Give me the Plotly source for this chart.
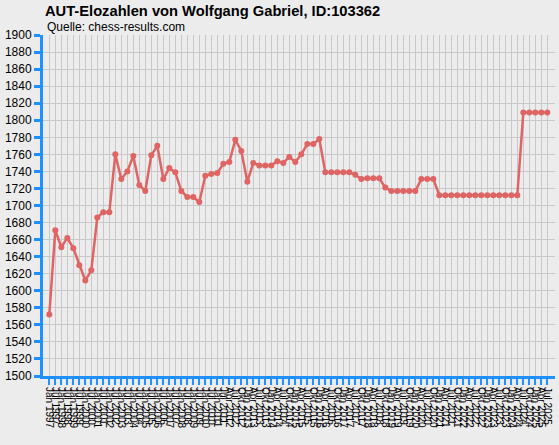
#!/usr/bin/env python3

import plotly.graph_objects as go

# Rating list dates (x axis tick labels).
dates = [
    "Jan 1997", "Jul 1997", "Jan 1998", "Jul 1998", "Jan 1999", "Jul 1999",
    "Jan 2000", "Jul 2000", "Jan 2001", "Jul 2001", "Jan 2002", "Jul 2002",
    "Jan 2003", "Jul 2003", "Jan 2004", "Jul 2004", "Jan 2005", "Jul 2005",
    "Jan 2006", "Jul 2006", "Jan 2007", "Jul 2007", "Jan 2008", "Jul 2008",
    "Jan 2009", "Jul 2009", "Jan 2010", "Jul 2010", "Jan 2011", "Jul 2011",
    "Apr 2012", "Jul 2012", "Okt 2012",
    "Jan 2013", "Apr 2013", "Jul 2013", "Okt 2013",
    "Jan 2014", "Apr 2014", "Jul 2014", "Okt 2014",
    "Jan 2015", "Apr 2015", "Jul 2015", "Okt 2015",
    "Jan 2016", "Apr 2016", "Jul 2016", "Okt 2016",
    "Jan 2017", "Apr 2017", "Jul 2017", "Okt 2017",
    "Jan 2018", "Apr 2018", "Jul 2018", "Okt 2018",
    "Jan 2019", "Apr 2019", "Jul 2019", "Okt 2019",
    "Jan 2020", "Apr 2020", "Jul 2020", "Okt 2020",
    "Jan 2021", "Apr 2021", "Jul 2021", "Okt 2021",
    "Jan 2022", "Apr 2022", "Jul 2022", "Okt 2022",
    "Jan 2023", "Apr 2023", "Jul 2023", "Okt 2023",
    "Jan 2024", "Apr 2024", "Jul 2024", "Okt 2024",
    "Jan 2025", "Apr 2025", "Jul 2025",
]

# Rating at each list.
ratings = [
    1572, 1671, 1651, 1662, 1650, 1630, 1612, 1624, 1686, 1692,
    1692, 1760, 1731, 1740, 1758, 1724, 1717, 1759, 1770, 1731,
    1744, 1739, 1717, 1710, 1710, 1704, 1735, 1737, 1738, 1749,
    1751, 1777, 1764, 1728, 1750, 1747, 1747, 1747, 1752, 1750,
    1757, 1751, 1760, 1772, 1772, 1778, 1739, 1739, 1739, 1739,
    1739, 1736, 1731, 1732, 1732, 1732, 1721, 1717, 1717, 1717,
    1717, 1717, 1731, 1731, 1731, 1712, 1712, 1712, 1712, 1712,
    1712, 1712, 1712, 1712, 1712, 1712, 1712, 1712, 1712, 1809,
    1809, 1809, 1809, 1809,
]

title = "AUT-Elozahlen von Wolfgang Gabriel, ID:103362"
subtitle = "Quelle: chess-results.com"

bg = "#ECECEC"
axis_blue = "#1E90FF"
grid = "#C8C8C8"
line_red = "#DF6464"
font = "Liberation Sans, Arial, sans-serif"

fig = go.Figure()

# Rating line with markers.
fig.add_trace(go.Scatter(
    x=dates, y=ratings, mode="lines+markers",
    line=dict(color=line_red, width=2.5),
    marker=dict(color=line_red, size=6),
    showlegend=False,
))

fig.update_layout(
    width=559, height=445,
    margin=dict(l=43, r=4, t=35, b=69),
    paper_bgcolor=bg, plot_bgcolor=bg,
    font=dict(family=font, size=12, color="black"),
    title=dict(text="<b>" + title + "</b>", x=45 / 559, xref="container", xanchor="left",
               y=1 - 11 / 445, yref="container", yanchor="middle",
               font=dict(family=font, size=14.7, color="black")),
    annotations=[dict(text=subtitle, xref="paper", yref="paper", x=2 / 512, y=1 + 8 / 341,
                      xanchor="left", yanchor="middle", showarrow=False,
                      font=dict(family=font, size=12, color="black"))],
)

fig.update_xaxes(
    type="category", range=[-1.05, 84.28], automargin=False,
    tickmode="array", tickvals=dates, ticktext=dates,
    showgrid=True, gridcolor=grid, gridwidth=1,
    showline=True, linecolor=axis_blue, linewidth=3,
    ticks="outside", tickcolor=axis_blue, ticklen=6, tickwidth=2,
    tickangle=90, tickfont=dict(family=font, size=10, color="black"),
)

fig.update_yaxes(
    range=[1500, 1900], dtick=20, automargin=False,
    showgrid=True, gridcolor=grid, gridwidth=1,
    showline=True, linecolor=axis_blue, linewidth=3,
    ticks="outside", tickcolor=axis_blue, ticklen=6, tickwidth=3,
    tickfont=dict(family=font, size=12, color="black"),
    zeroline=False,
)

# Drop the page's default body margin so the figure sits at the window corner.
fig.write_html("out.html", config={"displayModeBar": False},
               post_script="document.body.style.margin = '0';")
